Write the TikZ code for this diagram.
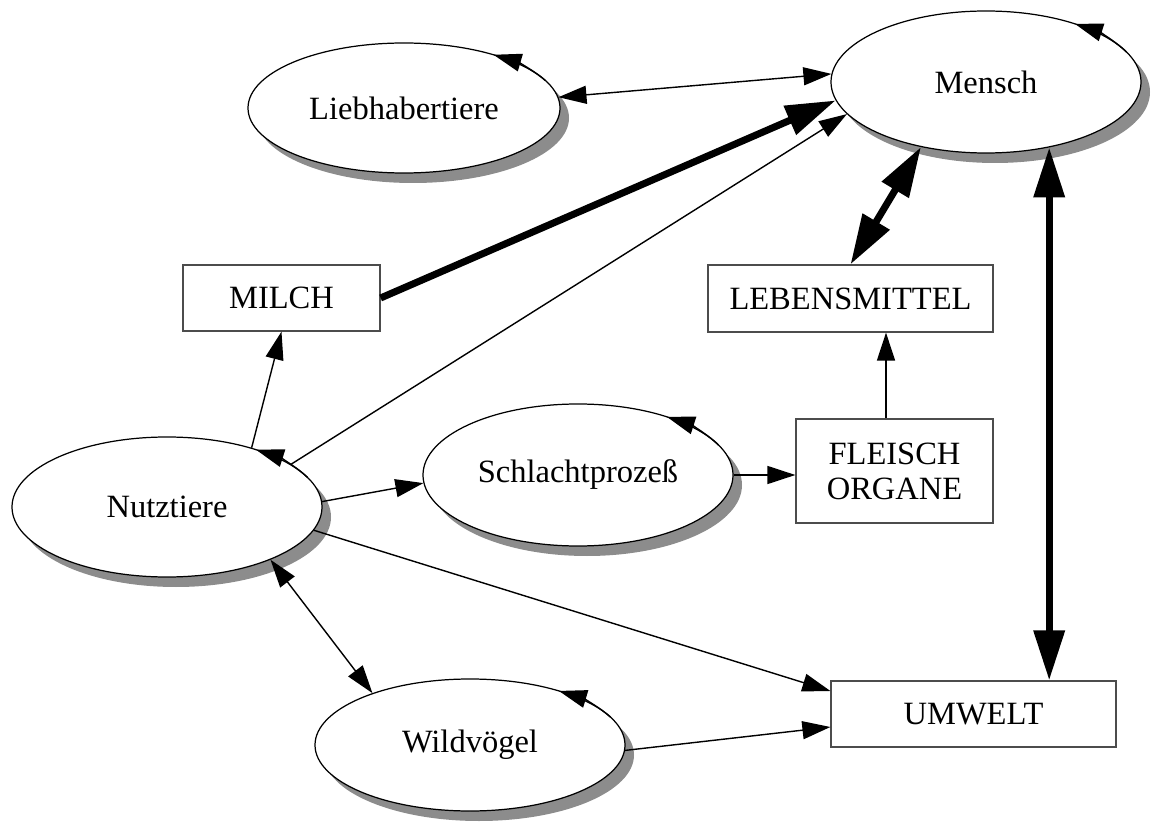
\documentclass[tikz,border=0pt]{standalone}
\usepackage{fontspec}
\setmainfont{Liberation Serif}
\usetikzlibrary{arrows.meta,shapes.geometric,shadows}

\begin{document}
\begin{tikzpicture}[
  font=\fontsize{18.5}{20}\selectfont,
  >={Triangle[length=5.6mm, width=3.6mm]},
  ell/.style={ellipse, draw, line width=0.7pt, fill=white, inner sep=0pt,
    drop shadow={shadow xshift=0.18cm, shadow yshift=-0.2cm, fill=black!45, opacity=1}},
  box/.style={draw=black!70, line width=0.7pt, align=center, inner sep=0pt},
  arrow/.style={->, line width=0.8pt},
  both/.style={<->, line width=0.8pt},
  fat/.style={>={Triangle[length=10mm, width=6mm]}, ->, line width=4pt},
  fatboth/.style={>={Triangle[length=10mm, width=6mm]}, <->, line width=4pt}
]
\useasboundingbox (0,0) rectangle (23.06,16.56);

\node[ell, minimum width=6.2cm, minimum height=2.84cm] (mensch) at (19.72,14.92) {Mensch};
\node[ell, minimum width=6.24cm, minimum height=2.6cm] (lieb) at (8.08,14.4) {Liebhabertiere};
\node[ell, minimum width=6.2cm, minimum height=2.8cm] (nutz) at (3.34,6.42) {Nutztiere};
\node[ell, minimum width=6.2cm, minimum height=2.84cm] (schlacht) at (11.56,7.06) {Schlachtprozeß};
\node[ell, minimum width=6.2cm, minimum height=2.64cm] (wild) at (9.4,1.66) {Wildvögel};

\node[box, minimum width=3.94cm, minimum height=1.32cm] (milch) at (5.63,10.6) {MILCH};
\node[box, minimum width=5.7cm, minimum height=1.34cm] (lebens) at (17.01,10.59) {LEBENSMITTEL};
\node[box, minimum width=3.94cm, minimum height=2.08cm] (fleisch) at (17.89,7.14) {FLEISCH\\ORGANE};
\node[box, minimum width=5.7cm, minimum height=1.32cm] (umwelt) at (19.47,2.28) {UMWELT};

% Rueckkopplung an jeder Ellipse
\foreach \nn/\rx/\ry in {mensch/3.1/1.42, lieb/3.12/1.3, nutz/3.1/1.4, schlacht/3.1/1.42, wild/3.1/1.32}
  \draw[arrow] (\nn.center) ++(25:\rx cm and \ry cm)
    arc[start angle=25, end angle=55, x radius=\rx cm, y radius=\ry cm];

\draw[both] (lieb.4) -- (mensch.177);
\draw[fat] (milch.east) -- (mensch.187);
\draw[arrow] (nutz.19) -- (mensch.193);
\draw[arrow] (nutz.35) -- (milch.south);
\draw[fatboth] (mensch.225) -- (lebens.north);
\draw[fatboth] (mensch.-46) -- (mensch.-46 |- umwelt.north);
\draw[arrow] ([xshift=-1.7mm]fleisch.north) -- ([xshift=-1.7mm]fleisch.north |- lebens.south);
\draw[arrow] (schlacht.east) -- (schlacht.east -| fleisch.west);
\draw[arrow] (nutz.2) -- (schlacht.183);
\draw[arrow] (nutz.-9) -- ([yshift=4.6mm]umwelt.west);
\draw[both] (nutz.-27) -- (wild.152);
\draw[arrow] (wild.-2) -- ([yshift=-2.6mm]umwelt.west);
\end{tikzpicture}
\end{document}
